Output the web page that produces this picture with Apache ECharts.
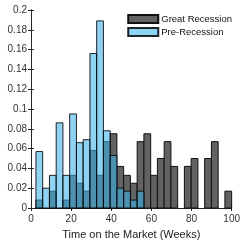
<!DOCTYPE html>
<html>
<head>
<meta charset="utf-8">
<script src="https://cdn.jsdelivr.net/npm/echarts@6/dist/echarts.min.js"></script>
<style>
  html, body { margin: 0; padding: 0; background: #fff; }
  #chart { width: 243px; height: 245px; }
</style>
</head>
<body>
<div id="chart"></div>
<script>
// histogram bin edges (weeks), 29 bins
var binEdges = [2.46, 5.82, 9.19, 12.55, 15.91, 19.28, 22.64, 26.00, 29.37, 32.73,
  36.09, 39.46, 42.82, 46.18, 49.55, 52.91, 56.27, 59.64, 63.00, 66.36,
  69.73, 73.09, 76.45, 79.82, 83.18, 86.54, 89.91, 93.27, 96.63, 100.00];

var greatRecession = [0.008, 0, 0.017, 0, 0.008, 0.033, 0.025, 0.017, 0.058, 0.033,
  0.067, 0.075, 0.042, 0.033, 0.025, 0.067, 0.075, 0.033, 0.050, 0.067,
  0.042, 0, 0.042, 0.050, 0, 0.050, 0.067, 0, 0.017];

var preRecession = [0.057, 0.020, 0.033, 0.086, 0.033, 0.095, 0.066, 0.069, 0.156, 0.189,
  0.078, 0.053, 0.020, 0.017, 0.008, 0.017, 0, 0, 0, 0,
  0, 0, 0, 0, 0, 0, 0, 0, 0];

var seriesNames = ['Great Recession', 'Pre-Recession'];

function toBins(values) {
  var out = [];
  for (var i = 0; i < values.length; i++) {
    out.push([binEdges[i], binEdges[i + 1], values[i]]);
  }
  return out;
}

function renderBar(params, api) {
  var v = api.value(2);
  if (!v) return null;
  var p0 = api.coord([api.value(0), v]);
  var p1 = api.coord([api.value(1), 0]);
  return {
    type: 'rect',
    shape: { x: p0[0], y: p0[1], width: p1[0] - p0[0], height: p1[1] - p0[1] },
    style: api.style()
  };
}

var chart = echarts.init(document.getElementById('chart'), null, { renderer: 'canvas' });
var font = 'Liberation Sans, Arial, sans-serif';
var tickColor = '#262626';

var option = {
  animation: false,
  textStyle: { fontFamily: font },
  grid: { left: 31, right: 9, top: 10, bottom: 31 },
  legend: {
    data: seriesNames,
    top: 14,
    right: 11,
    orient: 'vertical',
    itemGap: 3,
    itemWidth: 30,
    itemHeight: 8,
    icon: 'rect',
    textStyle: { fontFamily: font, fontSize: 9.5, color: '#111', padding: [0, 0, 0, -2] },
    padding: 0
  },
  xAxis: [{
    type: 'value', min: 0, max: 100, interval: 20,
    axisLine: { lineStyle: { color: tickColor, width: 1 } },
    axisTick: { inside: true, length: 3, lineStyle: { color: tickColor } },
    axisLabel: { color: '#333', fontSize: 10, margin: 6, fontFamily: font },
    splitLine: { show: false },
    name: 'Time on the Market (Weeks)',
    nameLocation: 'middle',
    nameGap: 21,
    nameTextStyle: { color: '#222', fontSize: 11, fontFamily: font }
  }, {
    type: 'value', min: 0, max: 100, interval: 20, position: 'top',
    axisLine: { show: true, lineStyle: { color: tickColor, width: 1 } },
    axisTick: { inside: true, length: 3, lineStyle: { color: tickColor } },
    axisLabel: { show: false },
    splitLine: { show: false }
  }],
  yAxis: [{
    type: 'value', min: 0, max: 0.2, interval: 0.02,
    axisLine: { show: true, lineStyle: { color: tickColor, width: 1 } },
    axisTick: { show: true, inside: true, length: 3, lineStyle: { color: tickColor } },
    axisLabel: { color: '#333', fontSize: 10, margin: 4, fontFamily: font },
    splitLine: { show: false }
  }, {
    type: 'value', min: 0, max: 0.2, interval: 0.02, position: 'right',
    axisLine: { show: true, lineStyle: { color: tickColor, width: 1 } },
    axisTick: { show: true, inside: true, length: 3, lineStyle: { color: tickColor } },
    axisLabel: { show: false },
    splitLine: { show: false }
  }],
  series: [{
    name: seriesNames[0],
    type: 'custom',
    renderItem: renderBar,
    encode: { x: [0, 1], y: 2 },
    itemStyle: { color: '#626262', borderColor: '#111', borderWidth: 1 },
    data: toBins(greatRecession)
  }, {
    name: seriesNames[1],
    type: 'custom',
    renderItem: renderBar,
    encode: { x: [0, 1], y: 2 },
    itemStyle: { color: 'rgba(62,180,232,0.58)', borderColor: 'rgba(0,0,0,0.85)', borderWidth: 1 },
    data: toBins(preRecession)
  }]
};

chart.setOption(option);
</script>
</body>
</html>
